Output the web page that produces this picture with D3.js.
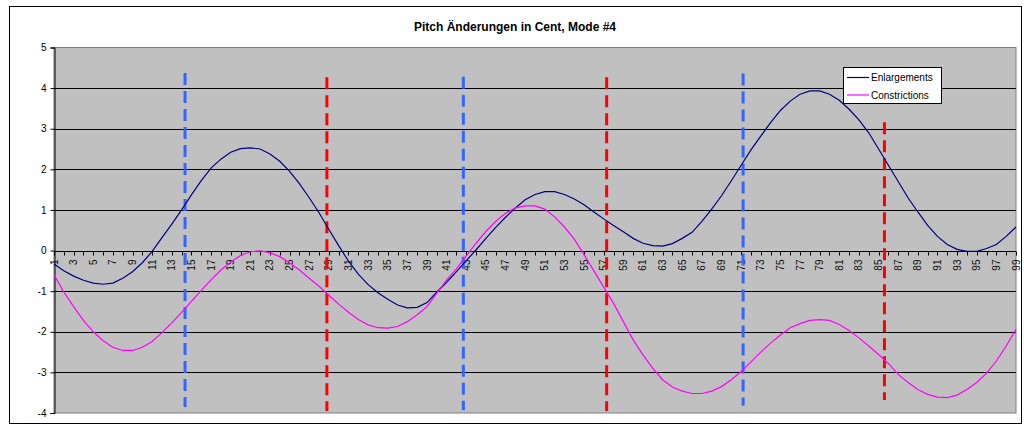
<!DOCTYPE html>
<html>
<head>
<meta charset="utf-8">
<script src="https://cdn.jsdelivr.net/npm/d3@7"></script>
<style>
  body { margin: 0; background: #fff; }
  svg text { font-family: "Liberation Sans", Arial, sans-serif; }
</style>
</head>
<body>
<svg id="chart" width="1024" height="426"></svg>
<script>
// data
var categories = d3.range(1, 100);
var enlargements = [
  -0.33, -0.50, -0.63, -0.73, -0.80, -0.83, -0.80, -0.68, -0.52, -0.30,
  -0.02, 0.32, 0.65, 1.00, 1.37, 1.72, 2.03, 2.25, 2.42, 2.51,
  2.53, 2.50, 2.38, 2.20, 1.95, 1.65, 1.30, 0.93, 0.52, 0.12,
  -0.26, -0.58, -0.84, -1.04, -1.20, -1.34, -1.41, -1.40, -1.28, -1.02,
  -0.78, -0.52, -0.25, 0.02, 0.30, 0.57, 0.82, 1.05, 1.25, 1.38,
  1.45, 1.45, 1.38, 1.27, 1.13, 0.95, 0.78, 0.62, 0.46, 0.30,
  0.18, 0.12, 0.11, 0.17, 0.30, 0.45, 0.72, 1.02, 1.35, 1.72,
  2.10, 2.48, 2.82, 3.15, 3.45, 3.68, 3.85, 3.93, 3.93, 3.85,
  3.70, 3.48, 3.22, 2.90, 2.50, 2.10, 1.70, 1.30, 0.95, 0.62,
  0.35, 0.15, 0.03, -0.02, -0.02, 0.05, 0.15, 0.35, 0.58
];
var constrictions = [
  -0.60, -1.02, -1.38, -1.72, -2.00, -2.22, -2.38, -2.46, -2.46, -2.38,
  -2.24, -2.02, -1.78, -1.52, -1.25, -0.98, -0.72, -0.48, -0.28, -0.12,
  -0.03, -0.01, -0.05, -0.15, -0.30, -0.48, -0.68, -0.88, -1.10, -1.32,
  -1.52, -1.70, -1.83, -1.90, -1.91, -1.87, -1.75, -1.58, -1.38, -1.05,
  -0.72, -0.45, -0.13, 0.18, 0.47, 0.72, 0.92, 1.05, 1.10, 1.10,
  1.02, 0.83, 0.58, 0.28, -0.10, -0.50, -0.90, -1.30, -1.75, -2.20,
  -2.57, -2.90, -3.18, -3.36, -3.46, -3.52, -3.52, -3.46, -3.35, -3.18,
  -2.98, -2.74, -2.50, -2.28, -2.08, -1.90, -1.80, -1.72, -1.70, -1.72,
  -1.82, -1.97, -2.15, -2.35, -2.56, -2.78, -3.05, -3.25, -3.42, -3.54,
  -3.61, -3.62, -3.56, -3.42, -3.25, -3.02, -2.72, -2.35, -1.94
];
var yTicks = [-4, -3, -2, -1, 0, 1, 2, 3, 4, 5];
var xLabels = categories.filter(function(c) { return c % 2 === 1; });
var seriesNames = ["Enlargements", "Constrictions"];
var seriesColors = ["#000080", "#FF00FF"];
// dashed marker lines: category position, top value, bottom value
var markerPos = [14.35, 28.8, 42.7, 57.3, 71.2, 85.6];
var markerTop = [4.37, 4.27, 4.28, 4.27, 4.36, 3.16];
var markerBottom = [-3.85, -3.95, -3.93, -3.95, -3.82, -3.68];
var markerColors = ["#3366FF", "#FF0000", "#3366FF", "#FF0000", "#3366FF", "#FF0000"];

(function() {
  var svg = d3.select("#chart");
  var pLeft = 54, pRight = 1016, pTop = 47.5, pBottom = 413;

  var x = d3.scaleLinear().domain([1, 99]).range([pLeft, pRight]);
  var y = d3.scaleLinear().domain([-4, 5]).range([pBottom, pTop]);

  // chart frame
  svg.append("rect")
    .attr("x", 9.5).attr("y", 6.5)
    .attr("width", 1012).attr("height", 417)
    .attr("fill", "#fff").attr("stroke", "#000").attr("stroke-width", 1);

  svg.append("text")
    .attr("x", 515).attr("y", 31)
    .attr("text-anchor", "middle")
    .style("font-size", "12px").style("font-weight", "bold")
    .text("Pitch Änderungen in Cent, Mode #4");

  // plot area
  svg.append("rect")
    .attr("x", pLeft).attr("y", pTop)
    .attr("width", pRight - pLeft).attr("height", pBottom - pTop)
    .attr("fill", "#C0C0C0").attr("stroke", "#808080").attr("stroke-width", 1);

  // gridlines
  svg.append("g").selectAll("line")
    .data(yTicks.filter(function(d) { return d > -4 && d < 5; }))
    .enter().append("line")
    .attr("x1", pLeft).attr("x2", pRight)
    .attr("y1", function(d) { return Math.round(y(d)) + 0.5; })
    .attr("y2", function(d) { return Math.round(y(d)) + 0.5; })
    .attr("stroke", "#000").attr("stroke-width", 1);

  // y axis
  var yAxis = d3.axisLeft(y).tickValues(yTicks).tickSize(4).tickPadding(4)
    .tickFormat(function(d) { return String(d); });
  var gy = svg.append("g").attr("transform", "translate(" + (pLeft + 0.5) + ",0)").call(yAxis);
  gy.select(".domain").attr("stroke", "#000");
  gy.selectAll("text").style("font-size", "10px").attr("fill", "#000");

  // x axis on zero line
  var y0 = Math.round(y(0)) + 0.5;
  var gx = svg.append("g").attr("transform", "translate(0," + y0 + ")");
  gx.append("line").attr("x1", pLeft).attr("x2", pRight).attr("stroke", "#000");
  gx.selectAll(".tk").data(categories).enter().append("line")
    .attr("class", "tk")
    .attr("x1", function(d) { return Math.round(x(d)) + 0.5; })
    .attr("x2", function(d) { return Math.round(x(d)) + 0.5; })
    .attr("y1", 0).attr("y2", 4)
    .attr("stroke", "#000");
  gx.selectAll(".lb").data(xLabels).enter().append("text")
    .attr("class", "lb")
    .attr("transform", function(d) { return "translate(" + x(d) + ",8) rotate(-90)"; })
    .attr("text-anchor", "end")
    .attr("dy", "0.35em")
    .style("font-size", "10px")
    .attr("fill", "#111")
    .text(function(d) { return d; });

  // marker lines
  svg.append("g").selectAll("line")
    .data(markerPos)
    .enter().append("line")
    .attr("x1", function(d) { return x(d); })
    .attr("x2", function(d) { return x(d); })
    .attr("y1", function(d, i) { return y(markerTop[i]); })
    .attr("y2", function(d, i) { return y(markerBottom[i]); })
    .attr("stroke", function(d, i) { return markerColors[i]; })
    .attr("stroke-width", 3)
    .attr("stroke-dasharray", "12,6");

  // series
  var line = d3.line()
    .x(function(d, i) { return x(categories[i]); })
    .y(function(d) { return y(d); });
  [enlargements, constrictions].forEach(function(s, k) {
    svg.append("path")
      .datum(s)
      .attr("d", line)
      .attr("fill", "none")
      .attr("stroke", seriesColors[k])
      .attr("stroke-width", 1.2);
  });

  // legend
  var lg = svg.append("g").attr("transform", "translate(843,67)");
  lg.append("rect")
    .attr("x", 0.5).attr("y", 0.5).attr("width", 98).attr("height", 36)
    .attr("fill", "#fff").attr("stroke", "#000");
  seriesNames.forEach(function(n, i) {
    var ly = 10.5 + i * 17.5;
    lg.append("line")
      .attr("x1", 4).attr("x2", 26).attr("y1", ly).attr("y2", ly)
      .attr("stroke", seriesColors[i]).attr("stroke-width", 1.2);
    lg.append("text")
      .attr("x", 28).attr("y", ly).attr("dy", "0.35em")
      .style("font-size", "10px")
      .text(n);
  });
})();
</script>
</body>
</html>
